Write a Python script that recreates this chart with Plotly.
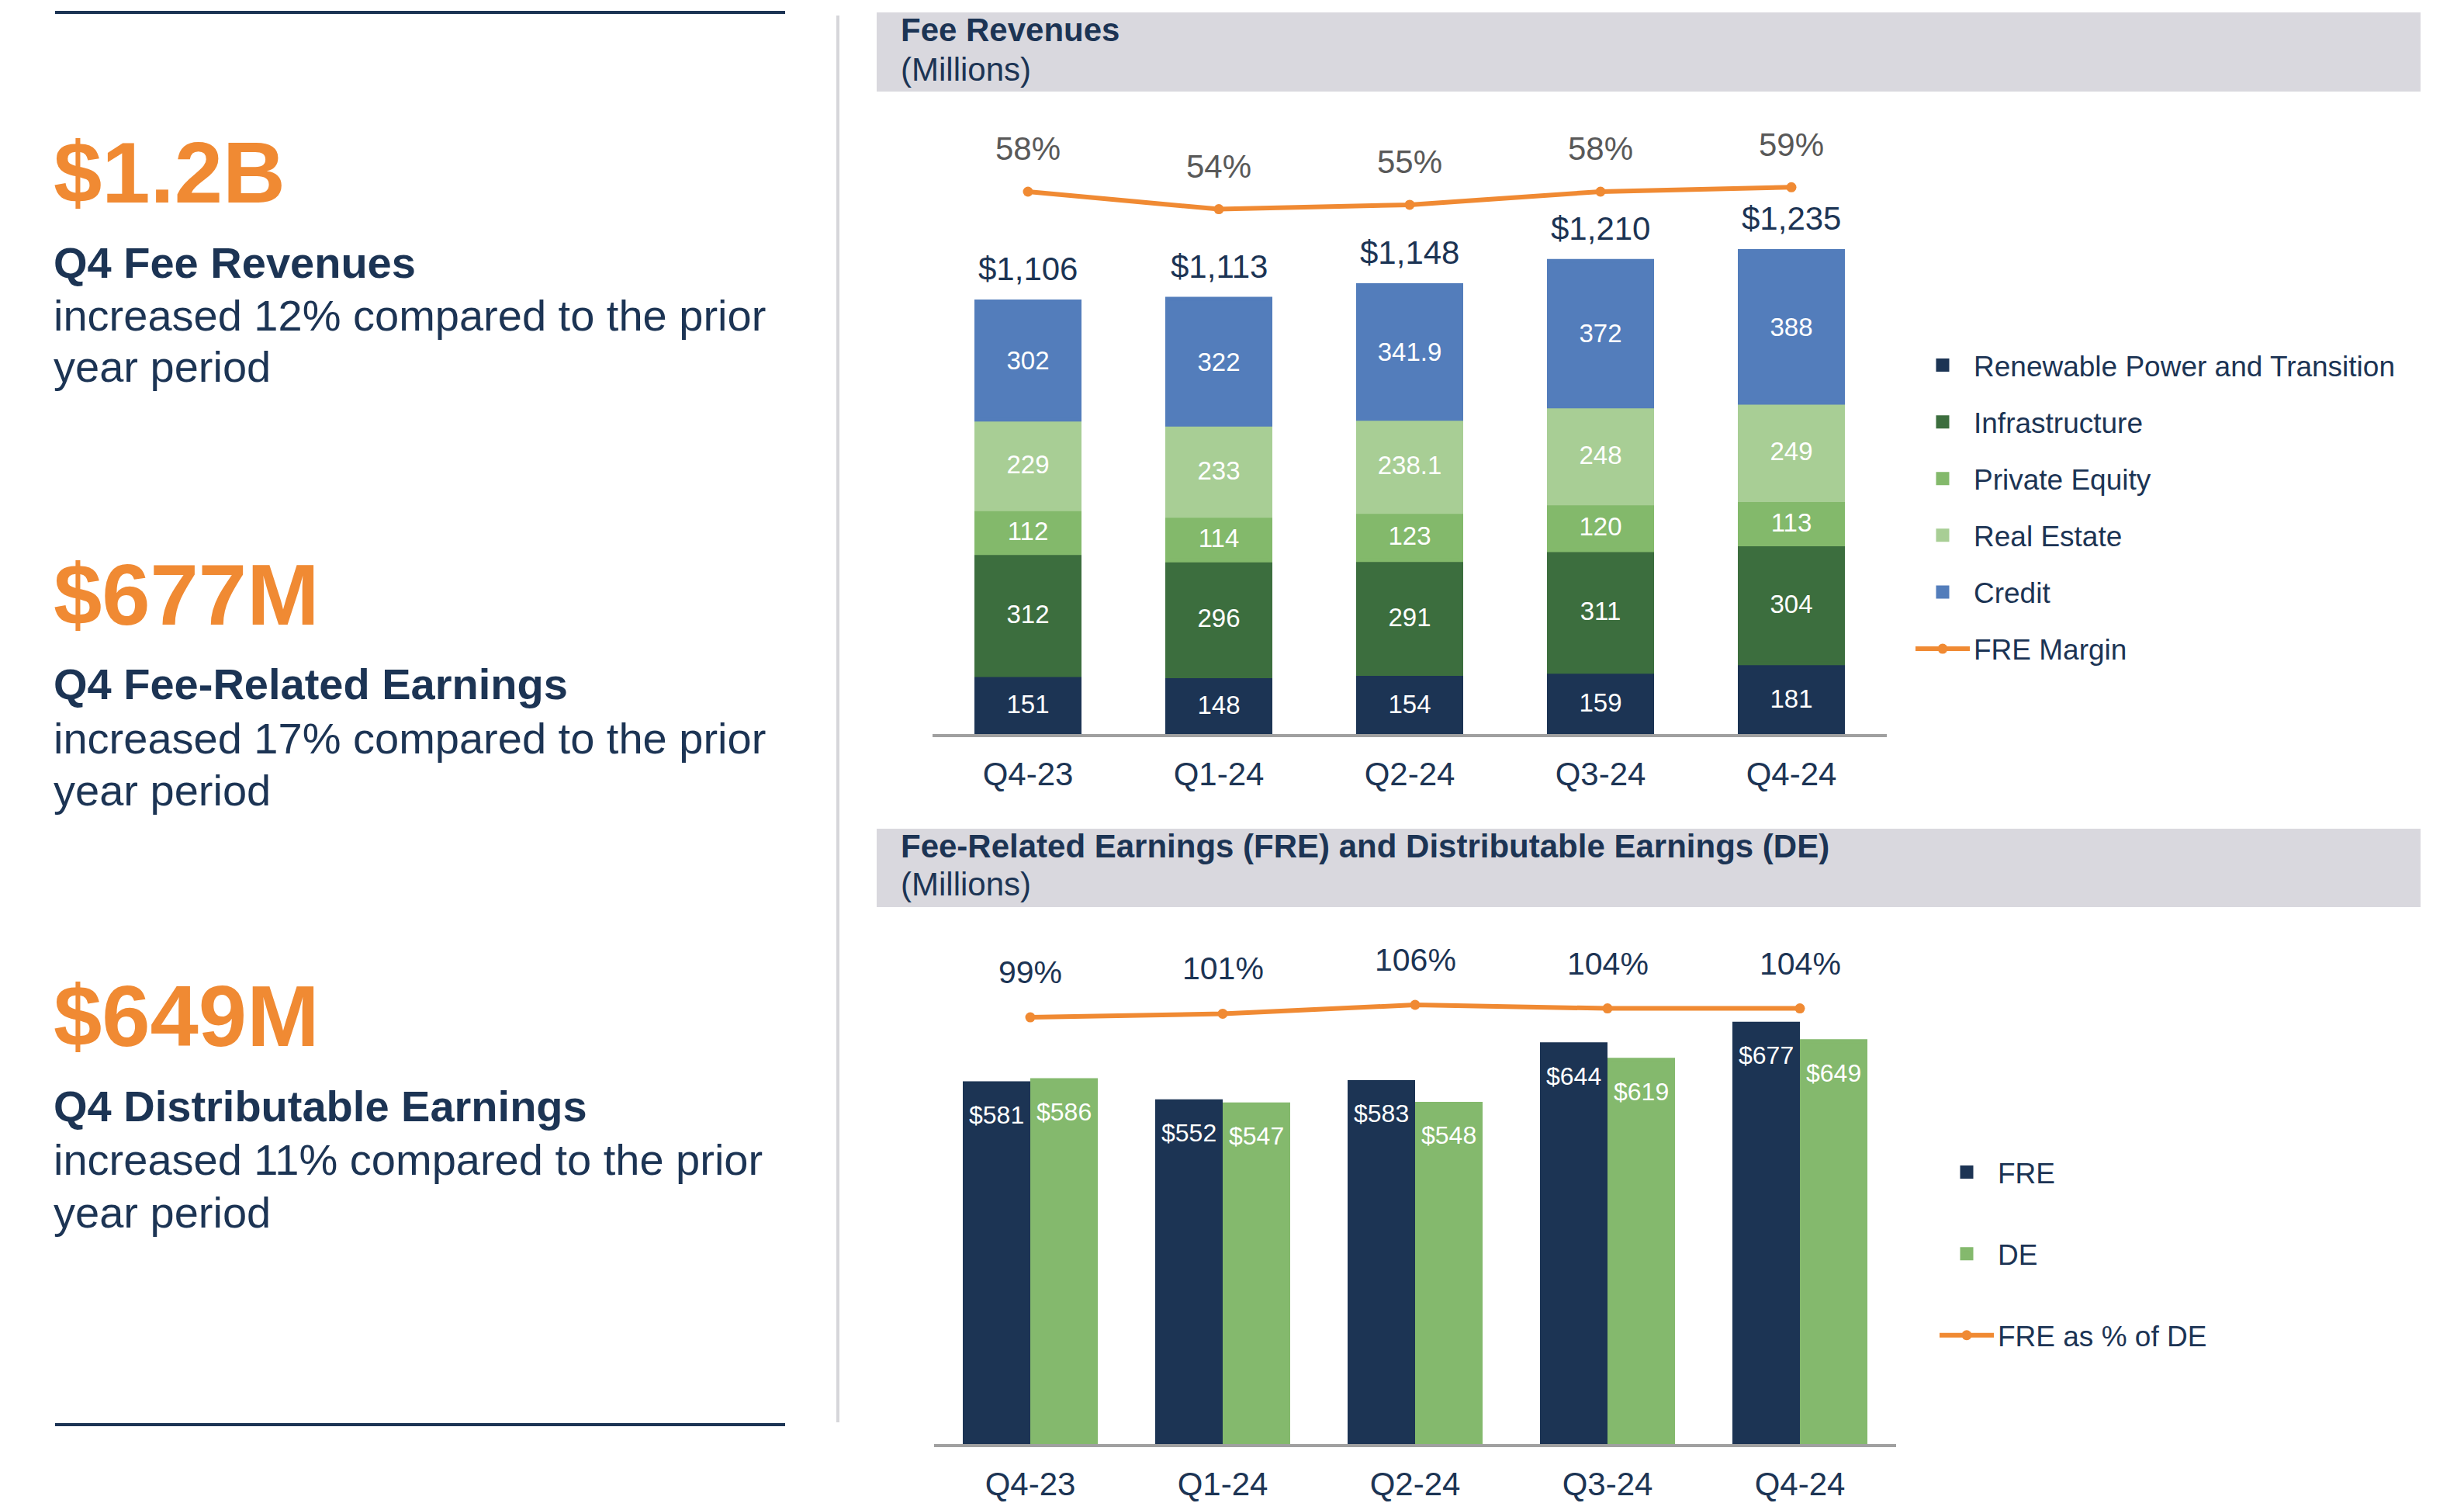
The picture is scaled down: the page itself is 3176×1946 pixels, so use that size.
import plotly.graph_objects as go

# ---------------- data ----------------
quarters = ["Q4-23", "Q1-24", "Q2-24", "Q3-24", "Q4-24"]
renewable = [151, 148, 154, 159, 181]
infrastructure = [312, 296, 291, 311, 304]
private_equity = [112, 114, 123, 120, 113]
real_estate = [229, 233, 238.1, 248, 249]
credit = [302, 322, 341.9, 372, 388]
fre_margin = [58, 54, 55, 58, 59]

fre = [581, 552, 583, 644, 677]
de = [586, 547, 548, 619, 649]
fre_pct_de = [99, 101, 106, 104, 104]

segment_names = ["Renewable Power and Transition", "Infrastructure", "Private Equity", "Real Estate", "Credit"]
segment_values = [renewable, infrastructure, private_equity, real_estate, credit]

# ---------------- style ----------------
SCREEN_W, SCREEN_H = 3176, 1946
PAGE_MARGIN = 8                      # default body margin of the html page
W, H = SCREEN_W - 2 * PAGE_MARGIN, SCREEN_H - 2 * PAGE_MARGIN
FONT = "Liberation Sans, Arial, sans-serif"
NAVY = "#1c3454"
ORANGE = "#f08a33"
GRAY_TXT = "#595959"
HEADER_BG = "#d9d8de"
seg_colors = ["#1c3454", "#3c6e3e", "#83b96b", "#a8ce95", "#537dbb"]
FRE_COLOR = "#1c3454"
DE_COLOR = "#84b96d"
OUTLINE = 5                          # same-colour outline (also enlarges legend swatches)

# pixel geometry of plot areas (screen coords)
TOP_X0, TOP_X1 = 1202, 2432
BOT_X0, BOT_X1 = 1204, 2444
TOP_BASE, TOP_TOP = 946, 130
BOT_BASE, BOT_TOP = 1861, 1200

top_step = (TOP_X1 - TOP_X0) / len(quarters)
bot_step = (BOT_X1 - BOT_X0) / len(quarters)
STACK_W = 138 / top_step             # visual bar width in category units
PAIR_W = 87 / bot_step
d_top = (OUTLINE / 2) / top_step
d_bot = (OUTLINE / 2) / bot_step


def fx(x):
    """screen pixel x -> paper fraction"""
    return (x - PAGE_MARGIN) / W


def fy(y):
    """screen pixel y (from top) -> paper fraction"""
    return 1 - (y - PAGE_MARGIN) / H


fig = go.Figure()

# ---------- top chart: stacked fee revenues ----------
base = [0.0] * len(quarters)
for name, vals, col in zip(segment_names, segment_values, seg_colors):
    fig.add_trace(go.Bar(
        x=quarters, y=vals, base=list(base), name=name,
        marker=dict(color=col, line=dict(width=OUTLINE, color=col)),
        width=STACK_W - 2 * d_top, offset=-STACK_W / 2 + d_top,
        text=[f"{v:g}" for v in vals], textposition="inside",
        insidetextanchor="middle", textangle=0,
        textfont=dict(color="white", size=33, family=FONT),
        xaxis="x", yaxis="y", legend="legend", legendgroup=name,
        hoverinfo="skip",
    ))
    base = [b + v for b, v in zip(base, vals)]
totals = base

fig.add_trace(go.Scatter(
    x=quarters, y=fre_margin, name="FRE Margin", mode="lines+markers",
    line=dict(color=ORANGE, width=6), marker=dict(color=ORANGE, size=13),
    xaxis="x", yaxis="y2", legend="legend", legendgroup="FRE Margin",
    cliponaxis=False, hoverinfo="skip",
))

# ---------- bottom chart: FRE vs DE ----------
fig.add_trace(go.Bar(
    x=quarters, y=fre, name="FRE", marker=dict(color=FRE_COLOR, line=dict(width=OUTLINE, color=FRE_COLOR)),
    width=PAIR_W - 2 * d_bot, offset=-PAIR_W + d_bot,
    xaxis="x3", yaxis="y3", legend="legend2", legendgroup="FRE", hoverinfo="skip",
))
fig.add_trace(go.Bar(
    x=quarters, y=de, name="DE", marker=dict(color=DE_COLOR, line=dict(width=OUTLINE, color=DE_COLOR)),
    width=PAIR_W - 2 * d_bot, offset=d_bot,
    xaxis="x3", yaxis="y3", legend="legend2", legendgroup="DE", hoverinfo="skip",
))
fig.add_trace(go.Scatter(
    x=quarters, y=fre_pct_de, name="FRE as % of DE", mode="lines+markers",
    line=dict(color=ORANGE, width=6), marker=dict(color=ORANGE, size=13),
    xaxis="x3", yaxis="y4", legend="legend2", legendgroup="pct",
    cliponaxis=False, hoverinfo="skip",
))

annotations = []
# totals above stacked bars
for q, t in zip(quarters, totals):
    annotations.append(dict(x=q, y=t, xref="x", yref="y", text=f"${t:,.0f}", showarrow=False,
                            yshift=42, font=dict(size=42, color=NAVY, family=FONT)))
# FRE margin labels
for q, p in zip(quarters, fre_margin):
    annotations.append(dict(x=q, y=p, xref="x", yref="y2", text=f"{p}%", showarrow=False,
                            yshift=55, font=dict(size=42, color=GRAY_TXT, family=FONT)))
# FRE as % of DE labels
for q, p in zip(quarters, fre_pct_de):
    annotations.append(dict(x=q, y=p, xref="x3", yref="y4", text=f"{p}%", showarrow=False,
                            yshift=58, font=dict(size=41, color=NAVY, family=FONT)))
# value labels inside the top of the FRE / DE bars
for i, (f_val, d_val) in enumerate(zip(fre, de)):
    annotations.append(dict(x=i - PAIR_W / 2, y=f_val, xref="x3", yref="y3", text=f"${f_val}",
                            showarrow=False, yshift=-41, font=dict(size=32, color="white", family=FONT)))
    annotations.append(dict(x=i + PAIR_W / 2, y=d_val, xref="x3", yref="y3", text=f"${d_val}",
                            showarrow=False, yshift=-41, font=dict(size=32, color="white", family=FONT)))

# header texts
headers = [
    ("<b>Fee Revenues</b>", 39), ("(Millions)", 90),
    ("<b>Fee-Related Earnings (FRE) and Distributable Earnings (DE)</b>", 1090), ("(Millions)", 1139),
]
for txt, yy in headers:
    annotations.append(dict(x=fx(1159), y=fy(yy), xref="paper", yref="paper", text=txt,
                            showarrow=False, xanchor="left", yanchor="middle",
                            font=dict(size=42, color=NAVY, family=FONT)))

# left panel texts
left_texts = [
    ("<b>$1.2B</b>", 222, 112, ORANGE),
    ("<b>Q4 Fee Revenues</b>", 339, 56, NAVY),
    ("increased 12% compared to the prior", 407, 56, NAVY),
    ("year period", 472, 56, NAVY),
    ("<b>$677M</b>", 766, 112, ORANGE),
    ("<b>Q4 Fee-Related Earnings</b>", 882, 56, NAVY),
    ("increased 17% compared to the prior", 951, 56, NAVY),
    ("year period", 1018, 56, NAVY),
    ("<b>$649M</b>", 1309, 112, ORANGE),
    ("<b>Q4 Distributable Earnings</b>", 1425, 56, NAVY),
    ("increased 11% compared to the prior", 1494, 56, NAVY),
    ("year period", 1562, 56, NAVY),
]
for txt, yy, sz, col in left_texts:
    annotations.append(dict(x=fx(67), y=fy(yy), xref="paper", yref="paper", text=txt,
                            showarrow=False, xanchor="left", yanchor="middle",
                            font=dict(size=sz, color=col, family=FONT)))

shapes = [
    dict(type="rect", xref="paper", yref="paper", x0=fx(1130), x1=fx(3120), y0=fy(118), y1=fy(16),
         fillcolor=HEADER_BG, line=dict(width=0), layer="below"),
    dict(type="rect", xref="paper", yref="paper", x0=fx(1130), x1=fx(3120), y0=fy(1169), y1=fy(1068),
         fillcolor=HEADER_BG, line=dict(width=0), layer="below"),
    dict(type="line", xref="paper", yref="paper", x0=fx(71), x1=fx(1012), y0=fy(16), y1=fy(16),
         line=dict(color=NAVY, width=4)),
    dict(type="line", xref="paper", yref="paper", x0=fx(71), x1=fx(1012), y0=fy(1836), y1=fy(1836),
         line=dict(color=NAVY, width=4)),
    dict(type="line", xref="paper", yref="paper", x0=fx(1080), x1=fx(1080), y0=fy(20), y1=fy(1833),
         line=dict(color="#d6d6da", width=4)),
]

xaxis_common = dict(type="category", showgrid=False, zeroline=False, showline=True,
                    linecolor="#a0a0a0", linewidth=4, ticks="", ticklabelstandoff=12,
                    tickfont=dict(size=42, color=NAVY, family=FONT), range=[-0.5, 4.5],
                    fixedrange=True, layer="above traces")

fig.update_layout(
    width=W, height=H, margin=dict(l=0, r=0, t=0, b=0),
    paper_bgcolor="white", plot_bgcolor="rgba(0,0,0,0)",
    barmode="overlay",
    font=dict(family=FONT, color=NAVY),
    xaxis=dict(domain=[fx(TOP_X0), fx(TOP_X1)], anchor="y", **xaxis_common),
    yaxis=dict(domain=[fy(TOP_BASE), fy(TOP_TOP)], range=[0, 1619], visible=False, fixedrange=True),
    yaxis2=dict(overlaying="y", range=[-65.7, 78.7], visible=False, fixedrange=True),
    xaxis3=dict(domain=[fx(BOT_X0), fx(BOT_X1)], anchor="y3", **xaxis_common),
    yaxis3=dict(domain=[fy(BOT_BASE), fy(BOT_TOP)], range=[0, 826], visible=False, fixedrange=True),
    yaxis4=dict(overlaying="y3", anchor="x3", range=[-141.2, 147.5], visible=False, fixedrange=True),
    legend=dict(x=fx(2464), y=fy(440), xanchor="left", yanchor="top",
                traceorder="grouped", tracegroupgap=22, itemwidth=70,
                font=dict(size=37, color=NAVY, family=FONT), bgcolor="rgba(0,0,0,0)"),
    legend2=dict(x=fx(2495), y=fy(1480), xanchor="left", yanchor="top",
                 traceorder="grouped", tracegroupgap=54, itemwidth=70,
                 font=dict(size=37, color=NAVY, family=FONT), bgcolor="rgba(0,0,0,0)"),
    annotations=annotations,
    shapes=shapes,
    showlegend=True,
)

fig.write_html("out.html")
